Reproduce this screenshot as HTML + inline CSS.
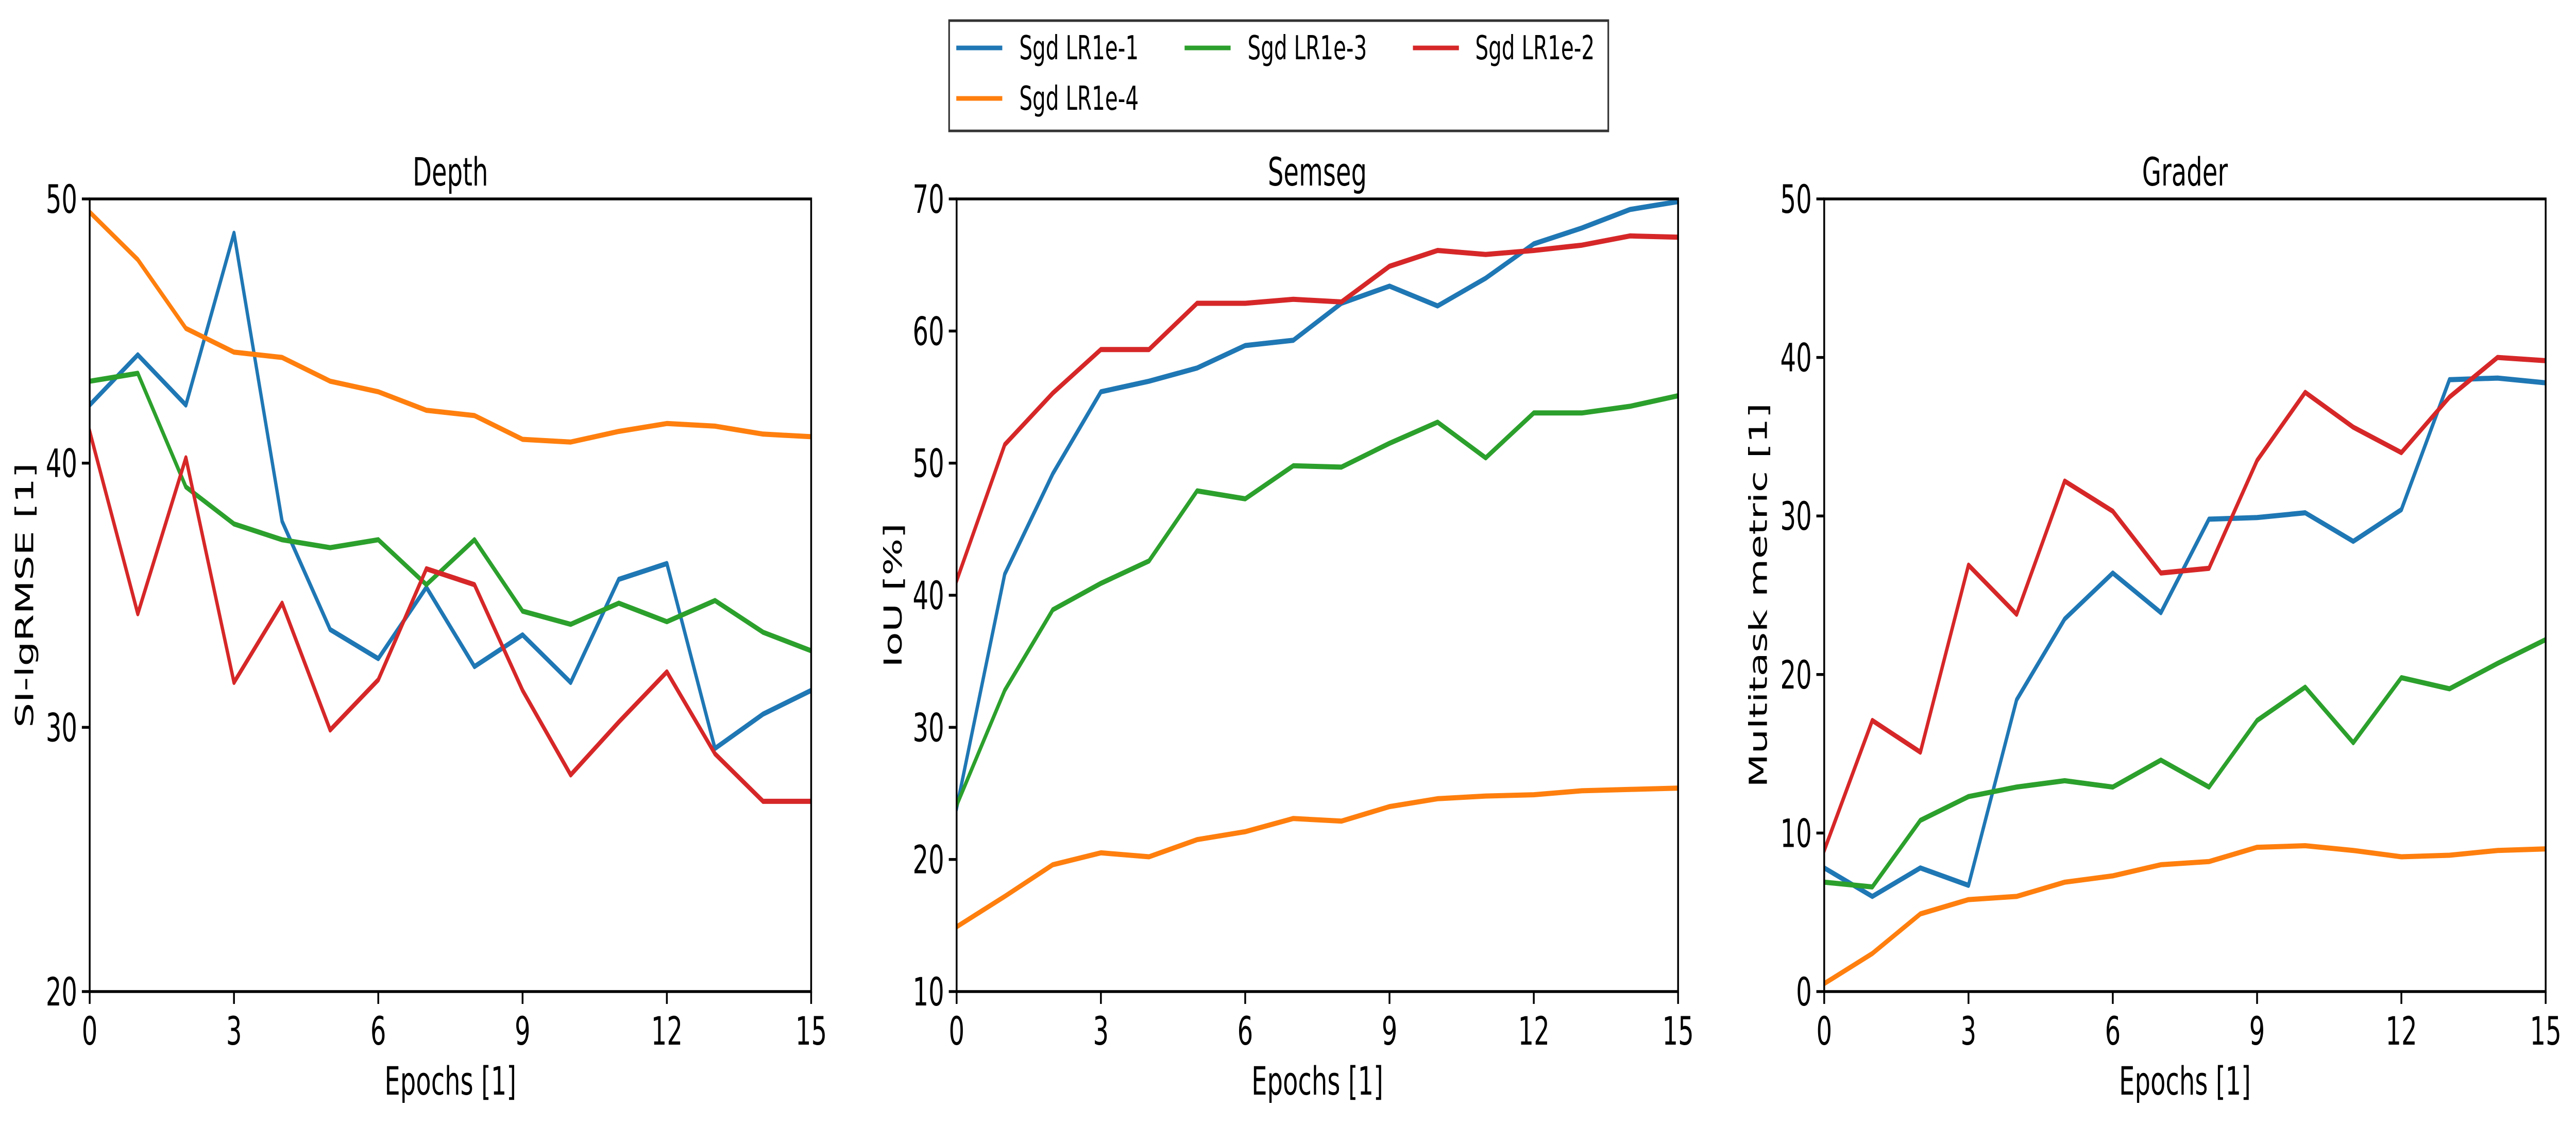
<!DOCTYPE html>
<html><head><meta charset="utf-8">
<style>
html,body{margin:0;padding:0;background:#fff;overflow:hidden;width:100%;height:100%;}
svg{display:block;width:100vw;height:100vh;}
text{font-family:"DejaVu Sans","Liberation Sans",sans-serif;fill:#000;}
</style></head>
<body>
<svg id="chart" viewBox="0 0 7898 2181" preserveAspectRatio="none" xmlns="http://www.w3.org/2000/svg">
<rect x="0" y="0" width="7898" height="2181" fill="#fff"/>
<g id="legend">
<rect x="2910" y="40" width="2021" height="214" fill="#fff" stroke="#333" stroke-width="5"/>
<g><line x1="2932" y1="93" x2="3073" y2="93" stroke="#1f77b4" stroke-width="9"/><text x="3125" y="115" font-size="64">Sgd LR1e-1</text></g>
<g><line x1="3632" y1="93" x2="3773" y2="93" stroke="#2ca02c" stroke-width="9"/><text x="3825" y="115" font-size="64">Sgd LR1e-3</text></g>
<g><line x1="4332" y1="93" x2="4473" y2="93" stroke="#d62728" stroke-width="9"/><text x="4523" y="115" font-size="64">Sgd LR1e-2</text></g>
<g><line x1="2932" y1="191" x2="3073" y2="191" stroke="#ff7f0e" stroke-width="9"/><text x="3125" y="213" font-size="64">Sgd LR1e-4</text></g>
</g>
</svg>
<script>
const epochs = [0,1,2,3,4,5,6,7,8,9,10,11,12,13,14,15];
const xTicks = [0,3,6,9,12,15];
const seriesNames = ["lr1e-1","lr1e-4","lr1e-3","lr1e-2"];
const colors = ["#1f77b4","#ff7f0e","#2ca02c","#d62728"];

const depthTitle = "Depth";
const depthYLabel = "SI-lgRMSE [1]";
const depthYTicks = [20,30,40,50];
const depthLR1 = [42.2,44.1,42.2,48.7,37.8,33.7,32.6,35.3,32.3,33.5,31.7,35.6,36.2,29.2,30.5,31.4];
const depthLR4 = [49.5,47.7,45.1,44.2,44.0,43.1,42.7,42.0,41.8,40.9,40.8,41.2,41.5,41.4,41.1,41.0];
const depthLR3 = [43.1,43.4,39.1,37.7,37.1,36.8,37.1,35.4,37.1,34.4,33.9,34.7,34.0,34.8,33.6,32.9];
const depthLR2 = [41.2,34.3,40.2,31.7,34.7,29.9,31.8,36.0,35.4,31.4,28.2,30.2,32.1,29.0,27.2,27.2];

const semsegTitle = "Semseg";
const semsegYLabel = "IoU [%]";
const semsegYTicks = [10,20,30,40,50,60,70];
const semsegLR1 = [23.9,41.6,49.2,55.4,56.2,57.2,58.9,59.3,62.1,63.4,61.9,64.0,66.6,67.8,69.2,69.8];
const semsegLR4 = [14.9,17.2,19.6,20.5,20.2,21.5,22.1,23.1,22.9,24.0,24.6,24.8,24.9,25.2,25.3,25.4];
const semsegLR3 = [24.1,32.8,38.9,40.9,42.6,47.9,47.3,49.8,49.7,51.5,53.1,50.4,53.8,53.8,54.3,55.1];
const semsegLR2 = [41.1,51.4,55.3,58.6,58.6,62.1,62.1,62.4,62.2,64.9,66.1,65.8,66.1,66.5,67.2,67.1];

const graderTitle = "Grader";
const graderYLabel = "Multitask metric [1]";
const graderYTicks = [0,10,20,30,40,50];
const graderLR1 = [7.8,6.0,7.8,6.7,18.4,23.5,26.4,23.9,29.8,29.9,30.2,28.4,30.4,38.6,38.7,38.4];
const graderLR4 = [0.5,2.4,4.9,5.8,6.0,6.9,7.3,8.0,8.2,9.1,9.2,8.9,8.5,8.6,8.9,9.0];
const graderLR3 = [6.9,6.6,10.8,12.3,12.9,13.3,12.9,14.6,12.9,17.1,19.2,15.7,19.8,19.1,20.7,22.2];
const graderLR2 = [8.9,17.1,15.1,26.9,23.8,32.2,30.3,26.4,26.7,33.5,37.8,35.6,34.0,37.5,40.0,39.8];

const NS = "http://www.w3.org/2000/svg";
const svg = document.getElementById("chart");
function mk(tag, attrs, parent){
  const e = document.createElementNS(NS, tag);
  for (const k in attrs) e.setAttribute(k, attrs[k]);
  parent.appendChild(e);
  return e;
}

function panel(key, left, title, ylabel, yticks, ylabelX, series){
  const right = left + 2212, top = 386, bottom = 1924;
  const ymin = yticks[0], ymax = yticks[yticks.length-1];
  const xs = v => left + (v - 0) / (15 - 0) * (right - left);
  const ys = v => bottom - (v - ymin) / (ymax - ymin) * (bottom - top);
  const g = mk("g", {}, svg);
  
  

  const t = mk("text", {x:(left+right)/2, y:360, "font-size":76, "text-anchor":"middle"}, g);
  t.textContent = title;
  
  

  const clipId = "clip-" + key;
  const cp = mk("clipPath", {id:clipId}, g);
  mk("rect", {x:left, y:top, width:right-left, height:bottom-top}, cp);
  const lines = mk("g", {"clip-path":"url(#"+clipId+")"}, g);
  series.forEach((vals, i) => {
    const pts = vals.map((v, j) => xs(epochs[j]).toFixed(1) + "," + ys(v).toFixed(1)).join(" ");
    const pl = mk("polyline", {points:pts, fill:"none", stroke:colors[i], "stroke-width":10, "stroke-linejoin":"round", "stroke-linecap":"square"}, lines);
    
    
  });

  const frame = mk("rect", {x:left, y:top, width:right-left, height:bottom-top, fill:"none", stroke:"#000", "stroke-width":5.5}, g);
  
  

  xTicks.forEach(v => {
    const x = xs(v);
    mk("line", {x1:x, y1:bottom, x2:x, y2:bottom+24, stroke:"#000", "stroke-width":5.5}, g);
    const tl = mk("text", {x:x, y:2027, "font-size":76, "text-anchor":"middle"}, g);
    tl.textContent = v;
    
    
  });
  yticks.forEach(v => {
    const y = ys(v);
    mk("line", {x1:left-24, y1:y, x2:left, y2:y, stroke:"#000", "stroke-width":5.5}, g);
    const tl = mk("text", {x:left-38, y:y+27, "font-size":76, "text-anchor":"end"}, g);
    tl.textContent = v;
    
    
  });
  const xl = mk("text", {x:(left+right)/2, y:2124, "font-size":76, "text-anchor":"middle"}, g);
  xl.textContent = "Epochs [1]";
  
  
  const cy = (top+bottom)/2;
  const yl = mk("text", {x:ylabelX, y:cy, "font-size":76, "text-anchor":"middle", transform:"rotate(-90 "+ylabelX+" "+cy+")", dy:"0.35em"}, g);
  yl.textContent = ylabel;
  
  
}

panel("depth", 275, depthTitle, depthYLabel, depthYTicks, 75, [depthLR1, depthLR4, depthLR3, depthLR2]);
panel("semseg", 2933, semsegTitle, semsegYLabel, semsegYTicks, 2738, [semsegLR1, semsegLR4, semsegLR3, semsegLR2]);
panel("grader", 5593, graderTitle, graderYLabel, graderYTicks, 5391, [graderLR1, graderLR4, graderLR3, graderLR2]);
svg.appendChild(document.getElementById("legend"));
</script>
</body></html>
